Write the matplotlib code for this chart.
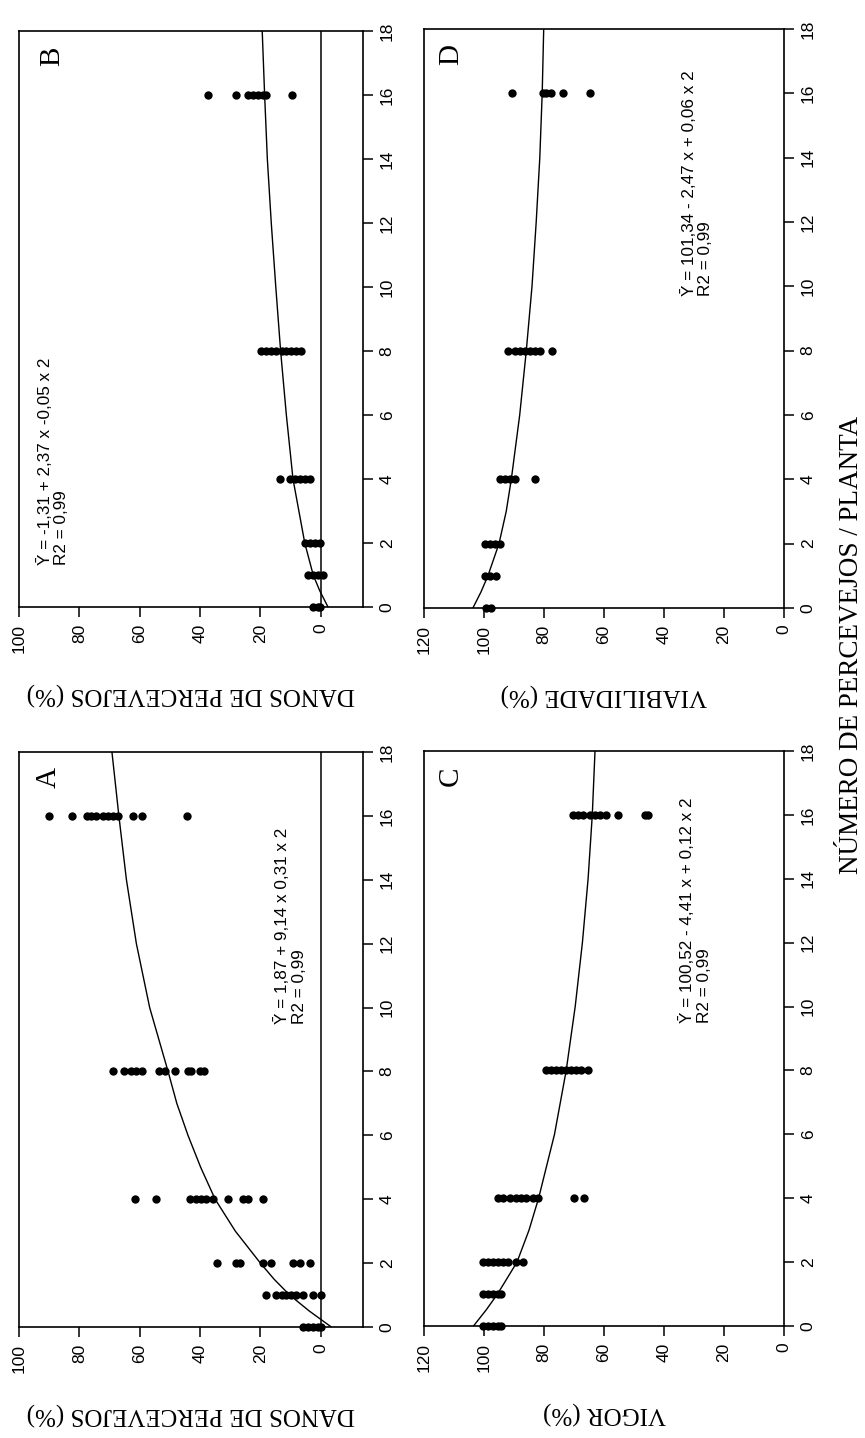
import matplotlib
matplotlib.use("Agg")
import matplotlib.pyplot as plt

# number of bugs per plant (shared by every panel)
levels = [0, 1, 2, 4, 8, 16]

# A - damage (%), one list per level
danos_a = [
    [5.9, 4.2, 2.5, 0.9, 0.0],
    [18.0, 14.7, 13.0, 11.4, 9.7, 8.1, 5.9, 2.5, 0.0],
    [34.3, 28.0, 26.9, 19.1, 16.4, 9.2, 7.0, 3.6],
    [61.7, 54.5, 43.4, 41.2, 39.6, 37.9, 35.7, 30.7, 25.7, 24.1, 19.1],
    [68.8, 65.3, 62.8, 61.1, 59.4, 53.6, 51.7, 48.4, 44.0, 42.9, 40.1, 38.8],
    [90.2, 82.3, 77.5, 76.0, 74.4, 72.2, 70.5, 68.8, 67.2, 62.2, 59.4, 44.2],
]
# B - damage (%)
danos_b = [
    [2.5, 1.0, 0.3],
    [4.2, 2.5, 0.9, -0.6],
    [5.3, 3.6, 2.0, 0.3],
    [13.6, 10.3, 8.6, 7.0, 5.3, 3.6],
    [19.7, 18.0, 16.4, 14.7, 13.0, 11.4, 9.7, 8.1, 6.4],
    [37.3, 28.2, 24.1, 22.4, 20.8, 19.1, 18.0, 9.4],
]
# C - vigour (%)
vigor_c = [
    [100.3, 98.7, 97.0, 95.3, 94.2],
    [100.3, 98.7, 97.0, 95.3, 94.2],
    [100.3, 98.7, 97.0, 95.3, 93.7, 92.0, 89.2, 87.0],
    [95.3, 93.7, 91.4, 89.2, 87.6, 85.9, 83.7, 82.0, 70.1, 66.8],
    [79.2, 77.6, 75.9, 74.2, 72.6, 70.9, 69.2, 67.6, 65.3],
    [70.3, 68.7, 67.0, 64.8, 63.1, 61.4, 59.2, 55.3, 46.4, 45.3],
]
# D - viability (%)
viab_d = [
    [99.2, 97.6],
    [99.8, 98.1, 95.9],
    [99.8, 98.1, 96.4, 94.8],
    [94.8, 93.1, 91.4, 89.8, 83.1],
    [92.0, 89.8, 88.1, 86.4, 84.8, 83.1, 81.4, 77.3],
    [90.6, 80.3, 79.2, 77.6, 73.7, 64.6],
]

# fitted curves
curve_a_x = [0, 0.5, 1, 1.5, 2, 3, 4, 5, 6, 7, 8, 10, 12, 14, 16, 18]
curve_a_y = [-3.5, 3.8, 10.3, 15.5, 20.0, 28.3, 35.0, 39.8, 44.0, 47.7, 50.6, 56.7, 61.1, 64.4, 66.9, 69.2]
curve_b_x = [0, 0.5, 1, 2, 4, 6, 8, 10, 12, 14, 16, 18]
curve_b_y = [-2.4, 0.3, 2.5, 5.3, 9.2, 11.4, 13.3, 14.9, 16.4, 17.7, 18.6, 19.4]
curve_c_x = [0, 0.5, 1, 2, 3, 4, 6, 8, 10, 12, 14, 16, 18]
curve_c_y = [103.5, 99.3, 95.5, 89.0, 85.0, 81.8, 76.5, 72.6, 69.6, 67.2, 65.3, 63.9, 63.0]
curve_d_x = [0, 0.5, 1, 2, 3, 4, 6, 8, 10, 12, 14, 16, 18]
curve_d_y = [103.7, 101.0, 98.7, 95.0, 92.6, 90.9, 88.1, 85.9, 84.0, 82.6, 81.4, 80.6, 80.1]

eq_a = "Ȳ = 1,87 + 9,14 x 0,31 x 2\nR2 = 0,99"
eq_b = "Ȳ = -1,31 + 2,37 x -0,05 x 2\nR2 = 0,99"
eq_c = "Ȳ = 100,52 - 4,41 x + 0,12 x 2\nR2 = 0,99"
eq_d = "Ȳ = 101,34 - 2,47 x + 0,06 x 2\nR2 = 0,99"

label_danos = "DANOS DE PERCEVEJOS (%)"
label_vigor = "VIGOR (%)"
label_viab = "VIABILIDADE (%)"
label_x = "NÚMERO DE PERCEVEJOS / PLANTA"

SERIF = ["Liberation Serif", "DejaVu Serif"]
SANS = ["Liberation Sans", "DejaVu Sans"]
NARROW = ["Liberation Sans Narrow", "Liberation Sans", "DejaVu Sans"]

W, H = 865, 1438
fig = plt.figure(figsize=(W / 100, H / 100), dpi=100)


def box(left, top, right, bottom):
    # pixel box -> figure fraction
    return [left / W, 1 - bottom / H, (right - left) / W, (bottom - top) / H]


def panel(rect, groups, cx, cy, xlim, ticks, letter, let_pos, eq, eq_pos, ylabel, zero_line):
    ax = fig.add_axes(rect)
    xs, vs = [], []
    for lv, grp in zip(levels, groups):
        for v in grp:
            xs.append(lv)
            vs.append(v)
    # figure is turned 90 degrees: response runs right->left, bugs run bottom->top
    ax.plot(vs, xs, "o", color="black", ms=6, mew=0, clip_on=False)
    ax.plot(cy, cx, "-", color="black", lw=1.0)
    if zero_line:
        ax.axvline(0, color="black", lw=1.1)
    ax.set_xlim(*xlim)
    ax.set_ylim(0, 18)
    ax.set_xticks(ticks)
    ax.set_yticks(range(0, 19, 2))
    ax.yaxis.tick_right()
    ax.tick_params(direction="out", length=7, width=1.1, labelsize=12.5, pad=5)
    for t in ax.get_xticklabels():
        t.set_rotation(90)
        t.set_family(SANS)
    for t in ax.get_yticklabels():
        t.set_rotation(90)
        t.set_va("center")
        t.set_family(SANS)
    for s in ax.spines.values():
        s.set_linewidth(1.2)
    ax.text(let_pos[0], let_pos[1], letter, rotation=90, ha="center", va="center",
            family=SERIF, fontsize=21)
    ax.text(eq_pos[0], eq_pos[1], eq, rotation=90, ha="center", va="bottom",
            multialignment="left", family=NARROW, fontsize=12.3, linespacing=1.1)
    ax.set_xlabel(ylabel, rotation=180, family=SERIF, fontsize=18)
    ax.xaxis.set_label_coords(0.5, -0.13)
    return ax


ticks_danos = [100, 80, 60, 40, 20, 0]
ticks_perc = [120, 100, 80, 60, 40, 20, 0]

panel(box(19, 752, 363, 1327), danos_a, curve_a_x, curve_a_y, (100, -14), ticks_danos,
      "A", (90.0, 17.2), eq_a, (10.0, 9.5), label_danos, True)
panel(box(19, 31, 363, 607), danos_b, curve_b_x, curve_b_y, (100, -14), ticks_danos,
      "B", (89.0, 17.2), eq_b, (88.7, 1.3), label_danos, True)
panel(box(424, 751, 784, 1326), vigor_c, curve_c_x, curve_c_y, (120, 0), ticks_perc,
      "C", (111.0, 17.2), eq_c, (29.5, 9.5), label_vigor, False)
panel(box(424, 29, 784, 608), viab_d, curve_d_x, curve_d_y, (120, 0), ticks_perc,
      "D", (111.0, 17.2), eq_d, (29.1, 9.7), label_viab, False)

fig.text(852 / W, 1 - 645 / H, label_x, rotation=90, ha="center", va="center",
         family=SERIF, fontsize=19.5)

fig.savefig("out.png", dpi=100)
